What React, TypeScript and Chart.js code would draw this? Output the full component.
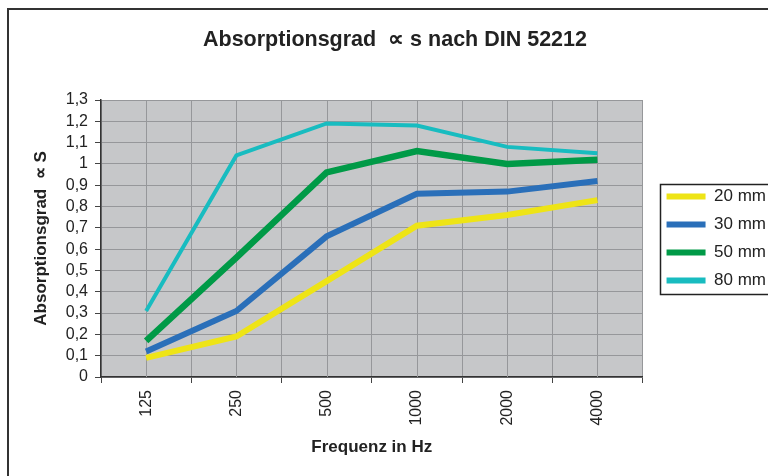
import React, { useEffect, useRef } from 'react';
import { Chart, registerables } from 'chart.js';

Chart.register(...registerables);

// ---- data ----
const frequencies = ['125', '250', '500', '1000', '2000', '4000'];
const seriesLabels = ['20 mm', '30 mm', '50 mm', '80 mm'];
const values20 = [0.09, 0.19, 0.45, 0.71, 0.76, 0.83];
const values30 = [0.12, 0.31, 0.66, 0.86, 0.87, 0.92];
const values50 = [0.17, 0.56, 0.96, 1.06, 1.0, 1.02];
const values80 = [0.31, 1.04, 1.19, 1.18, 1.08, 1.05];
const yTickLabels = ['0', '0,1', '0,2', '0,3', '0,4', '0,5', '0,6', '0,7', '0,8', '0,9', '1', '1,1', '1,2', '1,3'];

const seriesColors = ['#eee416', '#2a6fb9', '#009a47', '#18bcc0'];
const seriesWidths = [6, 6, 6.5, 4];

const FONT = "'Liberation Sans', Arial, Helvetica, sans-serif";
const GRID = '#96979a';
const PLOT_BG = '#c6c7c9';
const INK = '#222222';

const plotBackground = {
  id: 'plotBackground',
  beforeDraw(chart: any) {
    const { ctx, chartArea } = chart;
    ctx.save();
    ctx.fillStyle = PLOT_BG;
    ctx.fillRect(chartArea.left, chartArea.top, chartArea.right - chartArea.left, chartArea.bottom - chartArea.top);
    ctx.restore();
  },
};

// minor vertical grid lines at each category centre
const centerLines = {
  id: 'centerLines',
  beforeDatasetsDraw(chart: any) {
    const { ctx, chartArea } = chart;
    const xs = chart.scales.x;
    ctx.save();
    ctx.strokeStyle = GRID;
    ctx.lineWidth = 1;
    for (let i = 0; i < frequencies.length; i++) {
      const px = Math.round(xs.getPixelForValue(i)) + 0.5;
      ctx.beginPath();
      ctx.moveTo(px, chartArea.top);
      ctx.lineTo(px, chartArea.bottom);
      ctx.stroke();
    }
    ctx.restore();
  },
};

const legendFrame = {
  id: 'legendFrame',
  afterDraw(chart: any) {
    const lg = chart.legend;
    if (!lg || !lg.legendHitBoxes || !lg.legendHitBoxes.length) return;
    const hb = lg.legendHitBoxes;
    let l = Infinity, t = Infinity, r = -Infinity, b = -Infinity;
    hb.forEach((h: any) => {
      l = Math.min(l, h.left);
      t = Math.min(t, h.top);
      r = Math.max(r, h.left + h.width);
      b = Math.max(b, h.top + h.height);
    });
    const { ctx } = chart;
    ctx.save();
    ctx.strokeStyle = INK;
    ctx.lineWidth = 1.5;
    ctx.strokeRect(Math.round(l - 7) + 0.5, Math.round(t - 4) + 0.5, r - l + 14, b - t + 9);
    ctx.restore();
  },
};

export default function App() {
  const ref = useRef<HTMLCanvasElement | null>(null);

  useEffect(() => {
    if (!ref.current) return;
    Chart.defaults.font.family = FONT;
    const allValues = [values20, values30, values50, values80];
    const chart = new Chart(ref.current, {
      type: 'line',
      data: {
        labels: frequencies,
        datasets: allValues.map((vals, i) => ({
          label: seriesLabels[i],
          data: vals,
          borderColor: seriesColors[i],
          backgroundColor: seriesColors[i],
          borderWidth: seriesWidths[i],
          borderJoinStyle: 'miter' as const,
          borderCapStyle: 'butt' as const,
          pointRadius: 0,
          pointHoverRadius: 0,
          tension: 0,
          fill: false,
        })),
      },
      options: {
        responsive: false,
        animation: false,
        events: [],
        layout: { padding: { left: 5, right: 0, top: 0, bottom: 0 } },
        plugins: {
          tooltip: { enabled: false },
          title: {
            display: true,
            text: 'Absorptionsgrad  \u221D s nach DIN 52212',
            color: INK,
            font: { size: 21.5, weight: 'bold', family: FONT },
            padding: { top: 17.1, bottom: 47.1 },
          },
          legend: {
            display: true,
            position: 'right',
            fullSize: false,
            align: 'center',
            labels: {
              color: INK,
              font: { size: 17, family: FONT },
              boxWidth: 39,
              boxHeight: 6,
              padding: 11,
              generateLabels: (c: any) =>
                c.data.datasets.map((ds: any, i: number) => ({
                  text: ds.label,
                  fillStyle: ds.borderColor,
                  strokeStyle: ds.borderColor,
                  lineWidth: 0,
                  hidden: false,
                  datasetIndex: i,
                  fontColor: INK,
                })),
            },
          },
        },
        scales: {
          x: {
            type: 'category',
            offset: true,
            grid: {
              offset: true,
              color: GRID,
              lineWidth: 1,
              drawTicks: true,
              tickLength: 6,
              tickColor: '#444',
            },
            border: { display: true, color: '#333', width: 1.5 },
            ticks: {
              color: INK,
              font: { size: 16, family: FONT },
              minRotation: 90,
              maxRotation: 90,
              autoSkip: false,
              padding: 7,
            },
            title: {
              display: true,
              text: 'Frequenz in Hz',
              color: INK,
              font: { size: 17, weight: 'bold', family: FONT },
              padding: { top: 11.2, bottom: 18.8 },
            },
            afterFit: (s: any) => {
              s.height = 99;
            },
          },
          y: {
            type: 'linear',
            min: 0,
            max: 1.3,
            grid: {
              color: GRID,
              lineWidth: 1,
              drawTicks: true,
              tickLength: 6,
              tickColor: '#444',
            },
            border: { display: true, color: '#333', width: 1.5 },
            ticks: {
              stepSize: 0.1,
              autoSkip: false,
              color: INK,
              font: { size: 16, family: FONT },
              padding: 7,
              callback: (_v: any, i: number) => yTickLabels[i],
            },
            title: {
              display: true,
              text: 'Absorptionsgrad  \u221D S',
              color: INK,
              font: { size: 17, weight: 'bold', family: FONT },
              padding: { top: 16.8, bottom: 6.6 },
            },
            afterFit: (s: any) => {
              s.width = 87;
            },
          },
          spacer: {
            type: 'linear',
            position: 'right',
            display: true,
            grid: { display: false, drawTicks: false },
            border: { display: false },
            ticks: { display: false },
            afterFit: (s: any) => {
              s.width = 13;
            },
          },
        },
      } as any,
      plugins: [plotBackground, centerLines, legendFrame],
    });
    return () => chart.destroy();
  }, []);

  return (
    <div
      style={{
        position: 'fixed',
        left: 7,
        top: 8,
        width: 800,
        height: 500,
        borderLeft: '2px solid #333',
        borderTop: '2px solid #333',
        background: '#fff',
      }}
    >
      <canvas ref={ref} width={767} height={466} style={{ display: 'block' }} />
    </div>
  );
}
